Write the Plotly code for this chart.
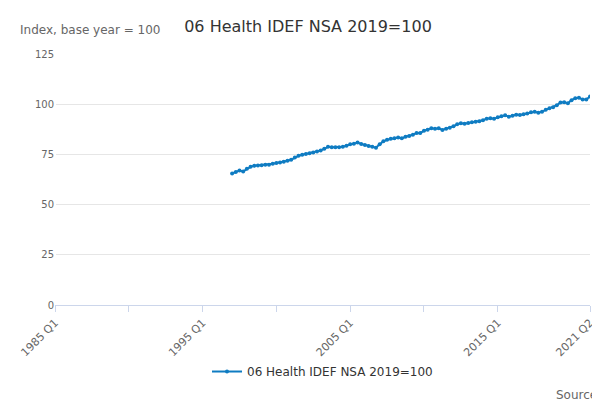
import plotly.graph_objects as go

series_name = "06 Health IDEF NSA 2019=100"
start_year = 1997
values = [
    65.5, 66.2, 67.0, 66.5,
    67.8, 68.8, 69.3, 69.5,
    69.6, 69.8, 69.8, 70.3,
    70.7, 71.0, 71.3, 71.8,
    72.3, 73.5, 74.3, 74.8,
    75.2, 75.6, 76.0, 76.4,
    77.0, 77.8, 78.8, 78.5,
    78.5, 78.6, 78.8, 79.3,
    80.0, 80.3, 80.9, 80.2,
    79.7, 79.2, 78.8, 78.3,
    80.0, 81.5, 82.3, 82.8,
    83.0, 83.4, 83.0, 83.8,
    84.2, 84.8, 85.7, 85.6,
    86.8, 87.3, 88.0, 87.8,
    88.0, 87.2, 87.8, 88.3,
    89.0, 90.0, 90.5, 90.3,
    90.6, 91.0, 91.2, 91.5,
    92.0, 92.8, 93.0, 92.8,
    93.5, 94.0, 94.5, 93.8,
    94.2, 94.8, 94.6, 95.0,
    95.4, 96.0, 96.2, 95.8,
    96.2, 97.2, 98.0, 98.5,
    99.5, 100.8, 101.0, 100.5,
    102.0, 103.0, 103.2, 102.4,
    102.3, 103.8,
]
tick_labels = ["1985 Q1", "", "1995 Q1", "", "2005 Q1", "", "2015 Q1", "2021 Q2"]
tick_pos = [0, 20, 40, 60, 80, 100, 120, 145]

# quarter index counted from 1985 Q1
x = [(start_year - 1985) * 4 + i for i in range(len(values))]

fig = go.Figure(go.Scatter(
    x=x, y=values, name=series_name, mode="lines+markers",
    line=dict(color="#0f7cc2", width=2),
    marker=dict(color="#0f7cc2", size=4),
))
fig.update_layout(
    width=600, height=400,
    paper_bgcolor="white", plot_bgcolor="white",
    font=dict(family="DejaVu Sans", color="#555"),
    title=dict(text="06 Health IDEF NSA 2019=100", x=0.5, xanchor="center",
               y=0.955, yanchor="middle", font=dict(size=16, color="#333")),
    margin=dict(l=47, r=18, t=46, b=103),
    showlegend=True,
    legend=dict(orientation="h", x=0.5, xanchor="center", y=-0.265,
                yanchor="middle", font=dict(size=12, color="#333")),
    xaxis=dict(range=[0, 145], tickvals=tick_pos, ticktext=tick_labels,
               tickangle=-45, showgrid=False, showline=True, linecolor="#ccd6eb",
               ticks="outside", tickcolor="#ccd6eb", ticklen=6, automargin=False,
               tickfont=dict(size=11, color="#666")),
    yaxis=dict(range=[0, 125], tickvals=[0, 25, 50, 75, 100, 125],
               gridcolor="#e6e6e6", zeroline=False, automargin=False,
               tickfont=dict(size=10, color="#666")),
    annotations=[
        dict(text="Index, base year = 100", xref="paper", yref="paper",
             x=-0.069, y=1.095, xanchor="left", yanchor="middle", showarrow=False,
             font=dict(size=12, color="#666")),
        dict(text="Source:", xref="paper", yref="paper", x=1.025, y=-0.36,
             xanchor="right", yanchor="middle", showarrow=False,
             font=dict(size=12, color="#666")),
    ],
)
fig.write_html("out.html")
